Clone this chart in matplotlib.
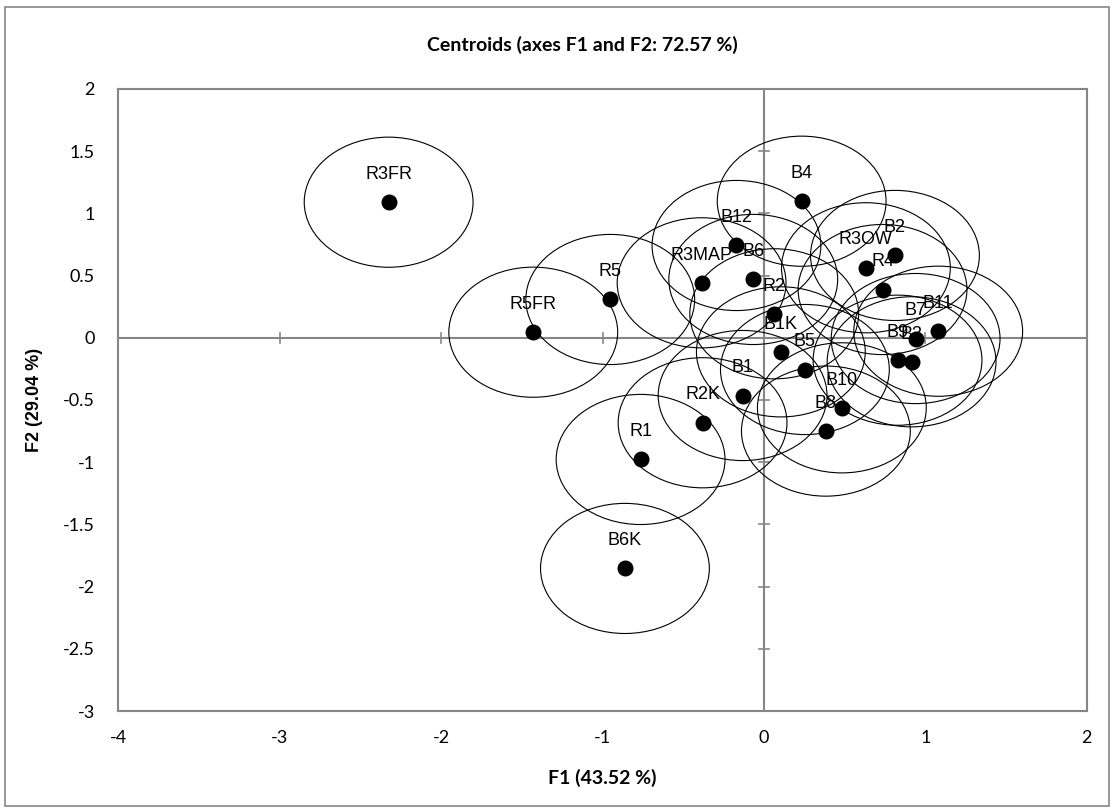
import matplotlib
matplotlib.use("Agg")
import matplotlib.pyplot as plt
from matplotlib.patches import Ellipse, Rectangle

labels = ['R3FR', 'R5FR', 'R5', 'R3MAP', 'B6', 'B12', 'B4', 'R2', 'B1K', 'B5',
          'B1', 'R2K', 'R1', 'B6K', 'B10', 'B8', 'R3OW', 'B2', 'R4', 'B7',
          'B11', 'B9', 'B3']
f1 = [-2.325, -1.429, -0.952, -0.386, -0.066, -0.170, 0.234, 0.064, 0.105, 0.254,
      -0.132, -0.380, -0.764, -0.861, 0.483, 0.384, 0.632, 0.812, 0.735, 0.940,
      1.080, 0.828, 0.915]
f2 = [1.090, 0.045, 0.308, 0.442, 0.469, 0.742, 1.098, 0.193, -0.113, -0.255,
      -0.464, -0.683, -0.978, -1.854, -0.563, -0.750, 0.563, 0.662, 0.388, -0.006,
      0.053, -0.180, -0.193]
radius = 0.523

x_ticks = [-4, -3, -2, -1, 0, 1, 2]
y_ticks = [-3, -2.5, -2, -1.5, -1, -0.5, 0, 0.5, 1, 1.5, 2]

W, H = 1115, 809
fig = plt.figure(figsize=(W / 100, H / 100), dpi=100)
ax = fig.add_axes([118.3 / W, 1 - 711 / H, (1086.7 - 118.3) / W, (711 - 89) / H])
ax.set_xlim(-4, 2)
ax.set_ylim(-3, 2)

tickfont = ['Lato', 'DejaVu Sans']
arial = ['Liberation Sans', 'DejaVu Sans']
gray = '#868686'

for s in ax.spines.values():
    s.set_color(gray)
    s.set_linewidth(1.5)
ax.tick_params(length=0, labelsize=13)
ax.tick_params(axis='y', pad=17)
ax.tick_params(axis='x', pad=14)
ax.set_xticks(x_ticks)
ax.set_yticks(y_ticks)
ax.set_xticklabels([f"{v:g}" for v in x_ticks], fontfamily=tickfont)
ax.set_yticklabels([f"{v:g}" for v in y_ticks], fontfamily=tickfont)

# zero lines with small cross ticks
ax.axhline(0, color=gray, lw=1.5, zorder=1)
ax.axvline(0, color=gray, lw=1.5, zorder=1)
for xv in x_ticks:
    ax.plot([xv, xv], [-0.04, 0.04], color=gray, lw=1.2, zorder=1)
for yv in y_ticks:
    ax.plot([-0.03, 0.03], [yv, yv], color=gray, lw=1.2, zorder=1)

for x, y in zip(f1, f2):
    ax.add_patch(Ellipse((x, y), 2 * radius, 2 * radius, fill=False,
                         edgecolor='black', lw=0.8, zorder=2))
ax.plot(f1, f2, 'o', color='black', markersize=10.5, zorder=4, linestyle='none')
for x, y, lab in zip(f1, f2, labels):
    ax.annotate(lab, (x, y), xytext=(0, 20), textcoords='offset points',
                ha='center', va='center', fontsize=13,
                fontfamily=arial, zorder=5)

ax.set_xlabel('F1 (43.52 %)', fontsize=14, fontweight='bold',
              fontfamily=tickfont, labelpad=16)
ax.set_ylabel('F2 (29.04 %)', fontsize=13, fontweight='bold',
              fontfamily=arial, labelpad=14)
fig.text(582 / W, 1 - 45 / H, 'Centroids (axes F1 and F2: 72.57 %)',
         ha='center', va='center', fontsize=14, fontweight='bold',
         fontfamily=tickfont)

fig.patches.append(Rectangle((5 / W, 1 - 806 / H), 1104 / W, 799 / H,
                             transform=fig.transFigure, fill=False,
                             edgecolor=gray, lw=1.2))

fig.savefig('out.png', dpi=100)
